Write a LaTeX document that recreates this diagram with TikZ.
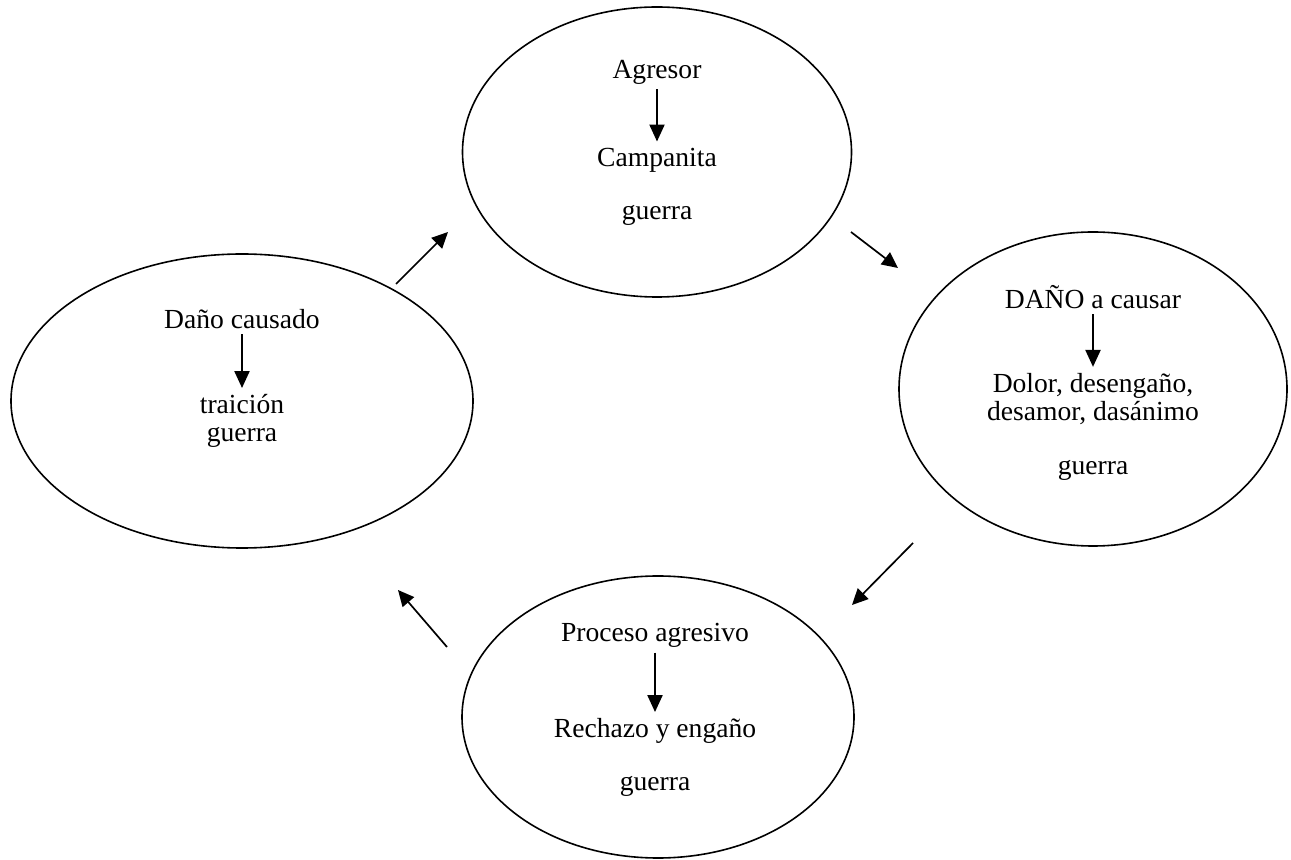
\documentclass[tikz,border=0pt]{standalone}
\usepackage{fontspec}
\setmainfont{Liberation Serif}
\usetikzlibrary{shapes.geometric,arrows.meta}
\begin{document}
\begin{tikzpicture}[x=0.5pt,y=-0.5pt,
  oval/.style={draw,ellipse,line width=0.8pt,inner sep=0pt},
  lbl/.style={font=\fontsize{13.8}{14}\selectfont,inner sep=1pt,align=center},
  inarrow/.style={-{Triangle[length=8.5pt,width=7.5pt]},line width=1.1pt,shorten <=1.5pt,shorten >=2pt},
  outarrow/.style={-{Triangle[length=8pt,width=7.5pt]},line width=0.85pt}]
\useasboundingbox (0,0) rectangle (1291,860);

% the four stages of the cycle
\node[oval,minimum width=194.5pt,minimum height=145pt] (top) at (657,152) {};
\node[oval,minimum width=194pt,minimum height=157pt] (right) at (1093,389) {};
\node[oval,minimum width=196pt,minimum height=141pt] (bottom) at (658,717) {};
\node[oval,minimum width=231pt,minimum height=147pt] (left) at (242,401) {};

% top stage
\node[lbl] (agr) at (657,72) {Agresor};
\node[lbl] (camp) at (657,160) {Campanita};
\node[lbl] (g1) at (657,215) {guerra};
\draw[inarrow] (agr) -- (camp);

% right stage
\node[lbl] (dano) at (1093,297) {DAÑO a causar};
\node[lbl] (dolor) at (1093,399) {Dolor, desengaño,\\desamor, dasánimo};
\node[lbl] (g2) at (1093,470) {guerra};
\draw[inarrow] (dano) -- (dolor);

% bottom stage
\node[lbl] (proc) at (655,635) {Proceso agresivo};
\node[lbl] (rech) at (655,731) {Rechazo y engaño};
\node[lbl] (g3) at (655,786) {guerra};
\draw[inarrow] (proc) -- (rech);

% left stage
\node[lbl] (caus) at (242,319) {Daño causado};
\node[lbl] (trai) at (242,421) {traición\\guerra};
\draw[inarrow] (caus) -- (trai);

% arrows between the stages
\coordinate (a1s) at (396,284); \coordinate (a1e) at (448,232);
\coordinate (a2s) at (851,232); \coordinate (a2e) at (898,268);
\coordinate (a3s) at (913,543); \coordinate (a3e) at (852,605);
\coordinate (a4s) at (447,647); \coordinate (a4e) at (398,590);
\draw[outarrow] (a1s) -- (a1e);
\draw[outarrow] (a2s) -- (a2e);
\draw[outarrow] (a3s) -- (a3e);
\draw[outarrow] (a4s) -- (a4e);
\end{tikzpicture}
\end{document}
